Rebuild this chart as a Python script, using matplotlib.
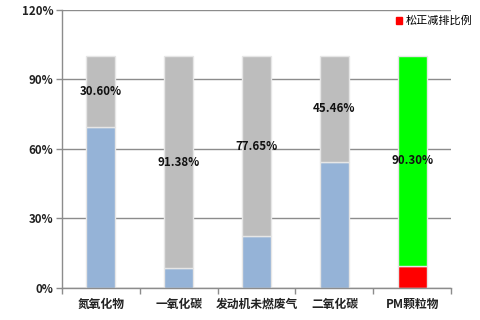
import matplotlib

matplotlib.use("Agg")
import matplotlib.pyplot as plt
import numpy as np

plt.rcParams["font.family"] = ["Noto Sans CJK SC", "DejaVu Sans"]

categories = ["氮氧化物", "一氧化碳", "发动机未燃废气", "二氧化碳", "PM颗粒物"]
reduction = [30.60, 91.38, 77.65, 45.46, 90.30]   # upper segment, labelled
remaining = [100 - v for v in reduction]          # lower segment
legend_label = "松正减排比例"

C_BLUE = "#95B3D7"
C_GRAY = "#BDBDBD"
C_GREEN = "#00FF00"
C_RED = "#FF0000"
C_AXIS = "#8C8C8C"

fig = plt.figure(figsize=(4.8, 3.2), dpi=100)
ax = fig.add_axes([0.129, 0.1, 0.811, 0.869])

x = np.arange(len(categories))
bottom_colors = [C_BLUE] * 4 + [C_RED]
top_colors = [C_GRAY] * 4 + [C_GREEN]
w = 0.37
ax.bar(x, remaining, w, color=bottom_colors, edgecolor="#E6E6E6", lw=1.0, zorder=2)
ax.bar(x, reduction, w, bottom=remaining, color=top_colors, edgecolor="#E6E6E6",
       lw=1.0, zorder=2)
for xi, r, b in zip(x, reduction, remaining):
    ax.text(xi, b + r / 2, f"{r:.2f}%", ha="center", va="center", fontsize=8.3,
            fontweight="bold", color="#111111", zorder=3)

ax.set_xlim(-0.5, 4.5)
ax.set_ylim(0, 120)
ax.set_yticks([0, 30, 60, 90, 120])
ax.set_yticklabels([f"{v}%" for v in [0, 30, 60, 90, 120]], fontsize=8.3, fontweight="bold",
                   color="#222222")
ax.set_xticks(x)
ax.set_xticklabels(categories, fontsize=8.5, fontweight="bold", color="#222222")
ax.set_xticks(np.arange(-0.5, 5.0, 1.0), minor=True)
ax.tick_params(axis="x", which="major", length=0, pad=7)
ax.tick_params(axis="x", which="minor", length=4, color=C_AXIS, width=1)
ax.tick_params(axis="y", length=4, color=C_AXIS, width=1, pad=2)
ax.yaxis.grid(True, color=C_AXIS, lw=1.0, zorder=0)
ax.set_axisbelow(True)
for s in ("top", "right"):
    ax.spines[s].set_visible(False)
for s in ("left", "bottom"):
    ax.spines[s].set_color(C_AXIS)
    ax.spines[s].set_linewidth(1.0)

h = plt.Rectangle((0, 0), 1, 1, color=C_RED)
fig.legend([h], [legend_label], loc="upper left", bbox_to_anchor=(0.815, 0.965),
           frameon=False, fontsize=8, handlelength=0.6, handleheight=0.6,
           handletextpad=0.3, borderaxespad=0)

fig.savefig("out.png", dpi=100)
